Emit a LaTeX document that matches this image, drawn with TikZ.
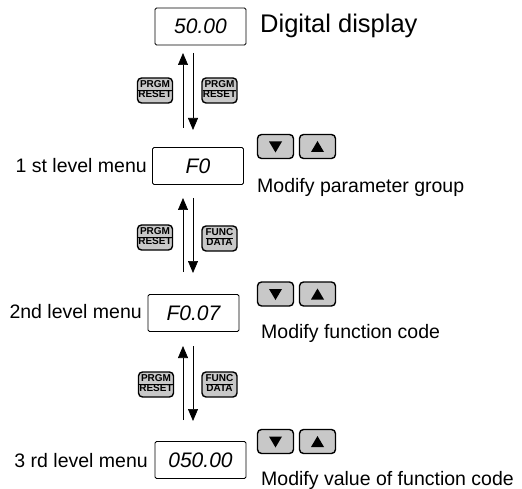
\documentclass[tikz,border=0pt]{standalone}
\usepackage{fontspec}
\setmainfont{Liberation Sans}
\usetikzlibrary{arrows.meta}
\newcommand\keytxt[2]{{\setlength{\arrayrulewidth}{0.9pt}\renewcommand\arraystretch{0.72}\setlength{\tabcolsep}{0pt}\begin{tabular}{c}#1\\\hline #2\end{tabular}}}
\definecolor{keygray}{RGB}{200,200,200}
\begin{document}
\begin{tikzpicture}[x=1pt,y=-1pt,
  disp/.style={draw,line width=0.8pt,rounded corners=1.5pt,minimum width=91pt,minimum height=37pt,inner sep=0pt,font=\fontsize{21}{21}\selectfont\itshape},
  key/.style={draw,fill=keygray,line width=1.4pt,rounded corners=4pt,minimum width=35pt,minimum height=25pt,inner sep=0pt,font=\fontsize{10}{10}\selectfont\bfseries},
  arrowkey/.style={draw,fill=keygray,line width=1.4pt,rounded corners=4pt,minimum width=36pt,minimum height=24pt,inner sep=0pt},
  downkey/.style={arrowkey,path picture={\fill[black,sharp corners] ([xshift=-6.5pt,yshift=5pt]path picture bounding box.center) -- ++(13pt,0) -- ++(-6.5pt,-11pt) -- cycle;}},
  upkey/.style={arrowkey,path picture={\fill[black,sharp corners] ([xshift=-6.5pt,yshift=-5.5pt]path picture bounding box.center) -- ++(13pt,0) -- ++(-6.5pt,11pt) -- cycle;}},
  lbl/.style={font=\fontsize{19.5}{20}\selectfont,inner sep=0pt},
  arr/.style={line width=0.7pt,-{Triangle[length=12pt,width=10pt]}}
]
\useasboundingbox (0,0) rectangle (522,489);

% displays
\node[disp] (d0) at (200.5,26.5) {50.00};
\node[disp] (d1) at (198,166) {F0};
\node[disp] (d2) at (193.5,313) {F0.07};
\node[disp] (d3) at (200.5,460) {050.00};

\node[font=\fontsize{25.5}{26}\selectfont,inner sep=0pt,anchor=base west] (t0) at (260,33) {Digital display};
\node[lbl,anchor=base east] (l1) at (147,173) {1 st level menu};
\node[lbl,anchor=base east] (l2) at (142,318) {2nd level menu};
\node[lbl,anchor=base east] (l3) at (148,467) {3 rd level menu};

% up/down keys
\node[downkey] (dn1) at (275.5,146.5) {};
\node[upkey] (up1) at (317.5,146.5) {};
\node[downkey] (dn2) at (275.5,294) {};
\node[upkey] (up2) at (317.5,294) {};
\node[downkey] (dn3) at (275.5,441.5) {};
\node[upkey] (up3) at (317.5,441.5) {};

\node[lbl,anchor=base west] (m1) at (257,193) {Modify parameter group};
\node[lbl,anchor=base west] (m2) at (261,338) {Modify function code};
\node[lbl,anchor=base west] (m3) at (261,485) {Modify value of function code};

% transition keys
\node[key] (k0l) at (155,90.5) {\keytxt{PRGM}{RESET}};
\node[key] (k0r) at (219.5,90.5) {\keytxt{PRGM}{RESET}};
\node[key] (k1l) at (155,237.5) {\keytxt{PRGM}{RESET}};
\node[key] (k1r) at (219.5,238.5) {\keytxt{FUNC}{DATA}};
\node[key] (k2l) at (156,384.5) {\keytxt{PRGM}{RESET}};
\node[key] (k2r) at (219.5,384.5) {\keytxt{FUNC}{DATA}};

% arrow end points
\coordinate (a0ub) at (183,128);
\coordinate (a0ut) at (183,53);
\coordinate (a0dt) at (193,53);
\coordinate (a0db) at (193,130);
\coordinate (a1ub) at (183,272);
\coordinate (a1ut) at (183,198);
\coordinate (a1dt) at (193,198);
\coordinate (a1db) at (193,273);
\coordinate (a2ub) at (183,420);
\coordinate (a2ut) at (183,346);
\coordinate (a2dt) at (193,346);
\coordinate (a2db) at (193,421);

\draw[arr] (a0ub) -- (a0ut);
\draw[arr] (a0dt) -- (a0db);
\draw[arr] (a1ub) -- (a1ut);
\draw[arr] (a1dt) -- (a1db);
\draw[arr] (a2ub) -- (a2ut);
\draw[arr] (a2dt) -- (a2db);
\end{tikzpicture}
\end{document}
